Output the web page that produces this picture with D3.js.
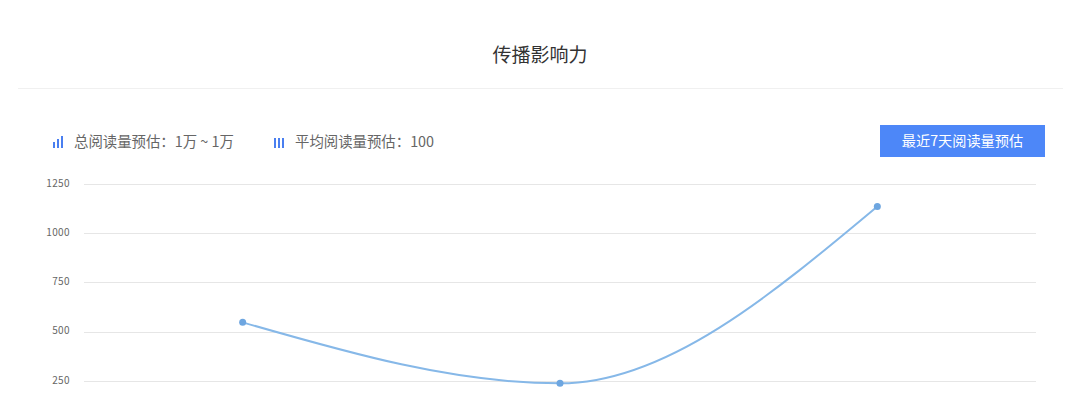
<html><head>
  <meta charset="utf-8">
  <script src="https://d3js.org/d3.v7.min.js"></script>
  <style>
    body { margin:0; background:#fff; overflow:hidden; }
    text { font-family:"Microsoft YaHei","Noto Sans CJK SC",sans-serif; }
  </style>
</head>
<body>
  <svg id="chart" width="1081" height="400"></svg>
  <script>
    // chart data
    const days = ["第1天", "第2天", "第3天"];
    const reads = [547, 237, 1136];
    const yTicks = [250, 500, 750, 1000, 1250];
    const legendItems = ["总阅读量预估：1万 ~ 1万", "平均阅读量预估：100"];
    const buttonLabel = "最近7天阅读量预估";

    let svg = d3.select("svg#chart");

    // title + divider
    svg.append("text")
       .text("传播影响力")
       .attr("x", 540)
       .attr("y", 62)
       .style("text-anchor", "middle")
       .style("font-size", "19px")
       .style("fill", "#333");

    svg.append("line")
       .attr("x1", 18).attr("x2", 1063)
       .attr("y1", 88.5).attr("y2", 88.5)
       .style("stroke", "#f0f0f0")
       .style("stroke-width", 1);

    // legend line
    let legendX = [53, 274];
    legendItems.forEach((d, i) => {
      let g = svg.append("g").attr("transform", "translate(" + legendX[i] + ",142)");
      // bar icons
      let heights = i == 0 ? [6, 9, 12] : [10, 10, 10];
      heights.forEach((h, j) => {
        g.append("rect")
         .attr("x", j * 4)
         .attr("y", 6 - h)
         .attr("width", 2)
         .attr("height", h)
         .style("fill", "#4a7ff0");
      });
      g.append("text")
       .text(d)
       .attr("x", 21)
       .attr("y", 5)
       .style("font-size", "14.4px")
       .style("fill", "#666");
    });

    // button
    svg.append("rect")
       .attr("x", 880).attr("y", 125)
       .attr("width", 165).attr("height", 32)
       .style("fill", "#4d87f8");
    svg.append("text")
       .text(buttonLabel)
       .attr("x", 962.5)
       .attr("y", 146)
       .style("text-anchor", "middle")
       .style("font-size", "14.2px")
       .style("fill", "#fff");

    // scales
    let x = d3.scaleBand()
              .domain(days)
              .range([84, 1036]);

    let y = d3.scaleLinear()
              .domain([0, 1250])
              .range([430, 184]);

    // grid + y labels
    yTicks.forEach(t => {
      svg.append("line")
         .attr("x1", 84).attr("x2", 1036)
         .attr("y1", Math.round(y(t)) + 0.5)
         .attr("y2", Math.round(y(t)) + 0.5)
         .style("stroke", "#e6e6e6")
         .style("stroke-width", 1);

      svg.append("text")
         .text(t)
         .attr("x", 70)
         .attr("y", y(t))
         .style("text-anchor", "end")
         .style("dominant-baseline", "middle")
         .style("font-size", "10px")
         .style("letter-spacing", "0.4px")
         .style("fill", "#666");
    });

    // line
    let pts = days.map((d, i) => [x(d) + x.bandwidth() / 2, y(reads[i])]);

    svg.append("path")
       .attr("d", d3.line().curve(d3.curveMonotoneX)(pts))
       .style("fill", "none")
       .style("stroke", "#86b8e8")
       .style("stroke-width", 2);

    pts.forEach(p => {
      svg.append("circle")
         .attr("cx", p[0])
         .attr("cy", p[1])
         .attr("r", 3.5)
         .style("fill", "#6ea6e0");
    });
  </script>
</body>
</html>
